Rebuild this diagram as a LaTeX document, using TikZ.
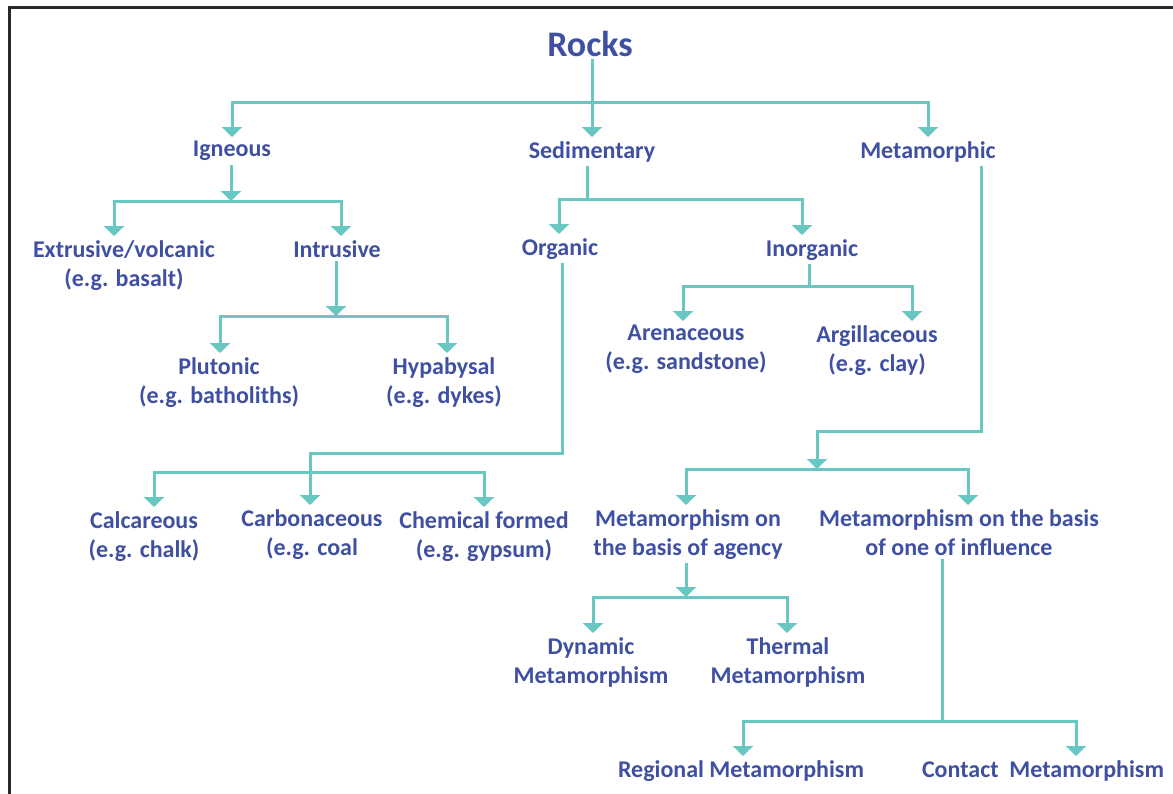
\documentclass[tikz,border=0pt]{standalone}
\usepackage{fontspec}
\setmainfont{Carlito}
\usepackage{tikz}
\usetikzlibrary{arrows.meta}
\definecolor{cText}{RGB}{63,80,162}
\definecolor{cTeal}{RGB}{102,200,193}
\definecolor{cFrame}{RGB}{40,40,40}
\tikzset{
	titlenode/.style={text=cText, font=\fontsize{36}{42}\selectfont\bfseries, inner sep=2pt},
	rocknode/.style ={anchor=north, align=center, text=cText, font=\fontsize{24}{29}\selectfont\bfseries, inner xsep=2pt, inner ysep=4pt},
	% connector styles
	branch/.style   ={cTeal, line width=3pt},
	down/.style     ={branch, -{Triangle[width=20pt, length=10pt]}},
}

\begin{document}
\begin{tikzpicture}[x=1pt, y=-1pt]
	\useasboundingbox (0,0) rectangle (1173,793);
	\draw[cFrame, line width=3pt] (9,7) rectangle (1190,810);
	% classes
	\node[titlenode] (rocks) at (590,44) {Rocks};
	\node[rocknode] (igneous) at (232,137) {Igneous};
	\node[rocknode] (sedim) at (592,137) {Sedimentary};
	\node[rocknode] (metam) at (928,137) {Metamorphic};
	% igneous
	\node[rocknode] (extr) at (124,236) {Extrusive/volcanic\\(e.g. basalt)};
	\node[rocknode] (intr) at (337,236) {Intrusive};
	\node[rocknode] (pluto) at (219,353) {Plutonic\\(e.g. batholiths)};
	\node[rocknode] (hypa) at (444,353) {Hypabysal\\(e.g. dykes)};
	% sedimentary
	\node[rocknode] (organic) at (560,234) {Organic};
	\node[rocknode] (inorg) at (812,235) {Inorganic};
	\node[rocknode] (aren) at (686,321) {Arenaceous\\(e.g. sandstone)};
	\node[rocknode] (argil) at (877,321) {Argillaceous\\(e.g. clay)};
	\node[rocknode] (calc) at (144,507) {Calcareous\\(e.g. chalk)};
	\node[rocknode] (carb) at (312,505) {Carbonaceous\\(e.g. coal};
	\node[rocknode] (chem) at (484,507) {Chemical formed\\(e.g. gypsum)};
	% metamorphic
	\node[rocknode] (agency) at (688,505) {Metamorphism on\\the basis of agency};
	\node[rocknode] (influ) at (959,505) {Metamorphism on the basis\\of one of influence};
	\node[rocknode] (dyn) at (591,633) {Dynamic\\Metamorphism};
	\node[rocknode] (therm) at (788,633) {Thermal\\Metamorphism};
	\node[rocknode] (regio) at (741,756) {Regional Metamorphism};
	\node[rocknode] (contact) at (1043,756) {Contact\ \ Metamorphism};

	% junctions
	\coordinate (jtop) at (592,102);
	\coordinate (jign) at (231,201);
	\coordinate (d-extr) at (114,201);
	\coordinate (d-intr) at (341,201);
	\coordinate (jintr) at (336,316);
	\coordinate (d-pluto) at (220,316);
	\coordinate (d-hypa) at (447,316);
	\coordinate (jsed) at (587,199);
	\coordinate (d-org) at (559,199);
	\coordinate (d-inorg) at (802,199);
	\coordinate (jinorg) at (809,286);
	\coordinate (d-aren) at (683,286);
	\coordinate (d-argil) at (912,286);
	\coordinate (corg) at (562,453);
	\coordinate (d-carb) at (310,453);
	\coordinate (d-calc) at (154,472);
	\coordinate (d-chem) at (484,472);
	\coordinate (cmet) at (981,431);
	\coordinate (jmet) at (817,469);
	\coordinate (d-agency) at (686,469);
	\coordinate (d-influ) at (968,469);
	\coordinate (jagen) at (686,597);
	\coordinate (d-dyn) at (593,597);
	\coordinate (d-therm) at (787,597);
	\coordinate (jinfl) at (942,721);
	\coordinate (d-regio) at (743,721);
	\coordinate (d-contact) at (1076,721);

	% rocks
	\draw[down] (rocks.south -| sedim.north) -- (sedim.north);
	\draw[down] (jtop) -| (igneous.north);
	\draw[down] (jtop) -| (metam.north);
	% igneous
	\draw[down] (igneous.south -| jign) -- (jign);
	\draw[down] (jign) -- (d-extr) -- (d-extr |- extr.north);
	\draw[down] (jign) -- (d-intr) -- (d-intr |- intr.north);
	\draw[down] (intr.south -| jintr) -- (jintr);
	\draw[down] (jintr) -- (d-pluto) -- (d-pluto |- pluto.north);
	\draw[down] (jintr) -- (d-hypa) -- (d-hypa |- hypa.north);
	% sedimentary
	\draw[branch] (sedim.south -| jsed) -- (jsed);
	\draw[down] (jsed) -- (d-org) -- (d-org |- organic.north);
	\draw[down] (jsed) -- (d-inorg) -- (d-inorg |- inorg.north);
	\draw[branch] (inorg.south -| jinorg) -- (jinorg);
	\draw[down] (jinorg) -- (d-aren) -- (d-aren |- aren.north);
	\draw[down] (jinorg) -- (d-argil) -- (d-argil |- argil.north);
	\draw[down] (organic.south -| corg) -- (corg) -- (d-carb) -- (d-carb |- carb.north);
	\draw[down] (d-carb |- d-calc) -- (d-calc) -- (d-calc |- calc.north);
	\draw[down] (d-carb |- d-calc) -- (d-chem) -- (d-chem |- chem.north);
	% metamorphic
	\draw[down] (metam.south -| cmet) -- (cmet) -| (jmet);
	\draw[down] (jmet) -- (d-agency) -- (d-agency |- agency.north);
	\draw[down] (jmet) -- (d-influ) -- (d-influ |- influ.north);
	\draw[down] (agency.south -| jagen) -- (jagen);
	\draw[down] (jagen) -- (d-dyn) -- (d-dyn |- dyn.north);
	\draw[down] (jagen) -- (d-therm) -- (d-therm |- therm.north);
	\draw[branch] (influ.south -| jinfl) -- (jinfl);
	\draw[down] (jinfl) -- (d-regio) -- (d-regio |- regio.north);
	\draw[down] (jinfl) -- (d-contact) -- (d-contact |- contact.north);
\end{tikzpicture}
\end{document}
